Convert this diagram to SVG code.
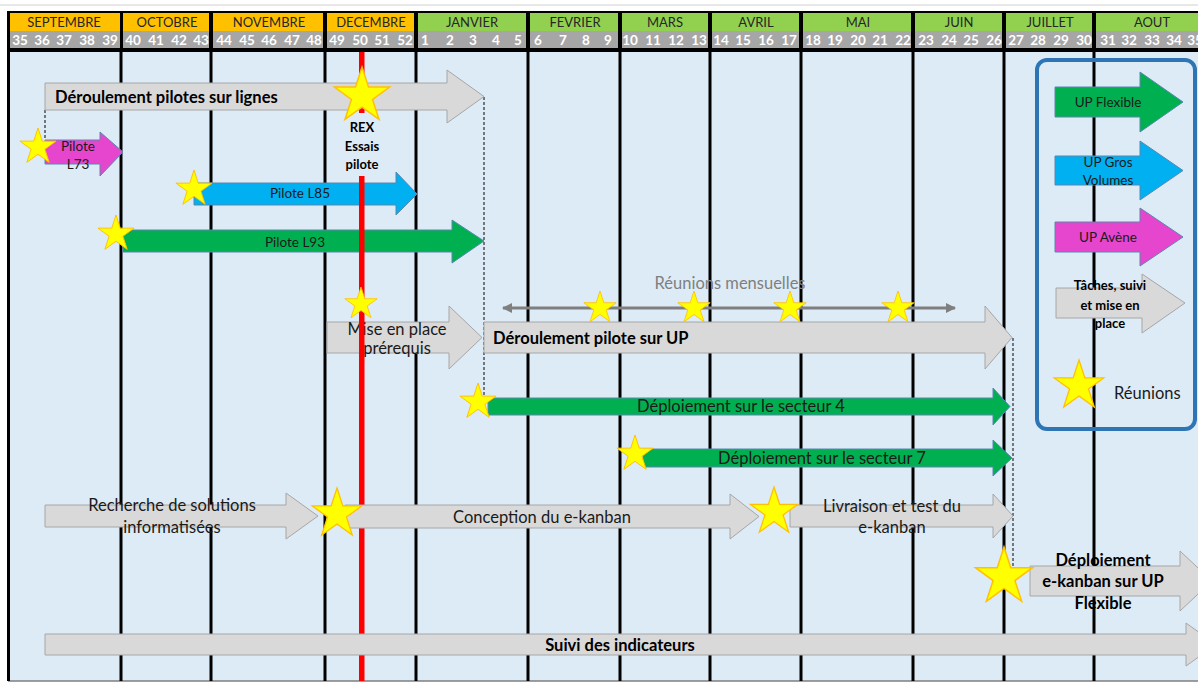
<svg xmlns="http://www.w3.org/2000/svg" xmlns:xlink="http://www.w3.org/1999/xlink" width="1198" height="683" viewBox="0 0 1198 683">
<defs>
<style>
.mon{font-family:Lato,"Liberation Sans",sans-serif;font-size:13px;fill:#262626;text-anchor:middle}
.wk{font-family:Lato,"Liberation Sans",sans-serif;font-size:13.5px;font-weight:bold;fill:#ffffff;text-anchor:middle}
.grid{stroke:#000;stroke-width:3}
.gray{fill:#D9D9D9;stroke:#A6A6A6;stroke-width:1}
.green{fill:#00B050;stroke:#5B86B0;stroke-width:1}
.blue{fill:#00B0F0;stroke:#5B86B0;stroke-width:1}
.mag{fill:#E646CD;stroke:#5B86B0;stroke-width:1}
.t{font-family:Lato,"Liberation Sans",sans-serif;font-size:16.5px;fill:#1a1a1a;text-anchor:middle}
.tb{font-family:Lato,"Liberation Sans",sans-serif;font-size:16.5px;font-weight:bold;fill:#000;text-anchor:middle}
.ts{font-family:Lato,"Liberation Sans",sans-serif;font-size:13.5px;fill:#1a1a1a;text-anchor:middle}
.tsb{font-family:Lato,"Liberation Sans",sans-serif;font-size:13px;font-weight:bold;fill:#000;text-anchor:middle}
.dash{stroke:#2b2b2b;stroke-width:1.2;stroke-dasharray:3 2;fill:none}
.star{fill:#FFFF00;stroke:#FFC000;stroke-width:1}
</style>
<path id="star" d="M0,-20 L4.49,-6.18 L19.02,-6.18 L7.27,2.36 L11.76,16.18 L0,7.64 L-11.76,16.18 L-7.27,2.36 L-19.02,-6.18 L-4.49,-6.18 Z"/>
<marker id="ah" viewBox="0 0 10 10" refX="9" refY="5" markerWidth="11" markerHeight="10" markerUnits="userSpaceOnUse" orient="auto-start-reverse">
<path d="M0,0 L10,5 L0,10 Z" fill="#7F7F7F"/>
</marker>
</defs>

<!-- background -->
<rect x="0" y="0" width="1198" height="683" fill="#ffffff"/>
<line x1="0" y1="5" x2="1198" y2="5" stroke="#D0D0D0" stroke-width="1"/>
<rect x="8" y="52" width="1190" height="629" fill="#DDEBF7"/>
<line x1="8" y1="681" x2="1198" y2="681" stroke="#7F7F7F" stroke-width="1.5"/>

<!-- header -->
<g id="header">
<rect x="7" y="11" width="1191" height="41" fill="#000"/>
<g fill="#FFC000">
<rect x="10" y="13" width="110" height="18"/>
<rect x="123" y="13" width="86" height="18"/>
<rect x="213" y="13" width="110" height="18"/>
<rect x="327" y="13" width="87" height="18"/>
</g>
<g fill="#92D050">
<rect x="418" y="13" width="108" height="18"/>
<rect x="530" y="13" width="88" height="18"/>
<rect x="622" y="13" width="86" height="18"/>
<rect x="712" y="13" width="87" height="18"/>
<rect x="803" y="13" width="108" height="18"/>
<rect x="915" y="13" width="87" height="18"/>
<rect x="1006" y="13" width="86" height="18"/>
<rect x="1096" y="13" width="102" height="18"/>
</g>
<g fill="#A6A6A6">
<rect x="10" y="31" width="110" height="17"/>
<rect x="123" y="31" width="86" height="17"/>
<rect x="213" y="31" width="110" height="17"/>
<rect x="327" y="31" width="87" height="17"/>
<rect x="418" y="31" width="108" height="17"/>
<rect x="530" y="31" width="88" height="17"/>
<rect x="622" y="31" width="86" height="17"/>
<rect x="712" y="31" width="87" height="17"/>
<rect x="803" y="31" width="108" height="17"/>
<rect x="915" y="31" width="87" height="17"/>
<rect x="1006" y="31" width="86" height="17"/>
<rect x="1096" y="31" width="102" height="17"/>
</g>
<text class="mon" x="64" y="26.5">SEPTEMBRE</text>
<text class="mon" x="167" y="26.5">OCTOBRE</text>
<text class="mon" x="269" y="26.5">NOVEMBRE</text>
<text class="mon" x="371" y="26.5">DECEMBRE</text>
<text class="mon" x="472" y="26.5">JANVIER</text>
<text class="mon" x="575" y="26.5">FEVRIER</text>
<text class="mon" x="665" y="26.5">MARS</text>
<text class="mon" x="756" y="26.5">AVRIL</text>
<text class="mon" x="858" y="26.5">MAI</text>
<text class="mon" x="959" y="26.5">JUIN</text>
<text class="mon" x="1050" y="26.5">JUILLET</text>
<text class="mon" x="1152" y="26.5">AOUT</text>
<g class="wk">
<text x="20" y="45">35</text><text x="42" y="45">36</text><text x="64" y="45">37</text><text x="87" y="45">38</text><text x="110" y="45">39</text>
<text x="133" y="45">40</text><text x="156" y="45">41</text><text x="179" y="45">42</text><text x="201" y="45">43</text>
<text x="224" y="45">44</text><text x="247" y="45">45</text><text x="269" y="45">46</text><text x="292" y="45">47</text><text x="314" y="45">48</text>
<text x="337" y="45">49</text><text x="360" y="45">50</text><text x="382" y="45">51</text><text x="405" y="45">52</text>
<text x="425" y="45">1</text><text x="450" y="45">2</text><text x="473" y="45">3</text><text x="496" y="45">4</text><text x="518" y="45">5</text>
<text x="538" y="45">6</text><text x="563" y="45">7</text><text x="586" y="45">8</text><text x="608" y="45">9</text>
<text x="630" y="45">10</text><text x="653" y="45">11</text><text x="676" y="45">12</text><text x="699" y="45">13</text>
<text x="721" y="45">14</text><text x="743" y="45">15</text><text x="766" y="45">16</text><text x="789" y="45">17</text>
<text x="813" y="45">18</text><text x="835" y="45">19</text><text x="858" y="45">20</text><text x="880" y="45">21</text><text x="903" y="45">22</text>
<text x="926" y="45">23</text><text x="949" y="45">24</text><text x="971" y="45">25</text><text x="994" y="45">26</text>
<text x="1016" y="45">27</text><text x="1038" y="45">28</text><text x="1061" y="45">29</text><text x="1084" y="45">30</text>
<text x="1108" y="45">31</text><text x="1129" y="45">32</text><text x="1152" y="45">33</text><text x="1174" y="45">34</text><text x="1195" y="45">35</text>
</g>
</g>

<!-- grid lines -->
<g id="grid" class="grid">
<line x1="8.5" y1="11" x2="8.5" y2="681"/>
<line x1="121" y1="52" x2="121" y2="681"/>
<line x1="211" y1="52" x2="211" y2="681"/>
<line x1="325" y1="52" x2="325" y2="681"/>
<line x1="416" y1="52" x2="416" y2="681"/>
<line x1="528" y1="52" x2="528" y2="681"/>
<line x1="620" y1="52" x2="620" y2="681"/>
<line x1="710" y1="52" x2="710" y2="681"/>
<line x1="801" y1="52" x2="801" y2="681"/>
<line x1="913" y1="52" x2="913" y2="681"/>
<line x1="1004" y1="52" x2="1004" y2="681"/>
<line x1="1094" y1="52" x2="1094" y2="681"/>
</g>

<!-- connectors -->
<g id="connectors">
<line class="dash" x1="45" y1="110" x2="45" y2="140"/>
<line class="dash" x1="484" y1="97" x2="484" y2="398"/>
<line class="dash" x1="1013" y1="338" x2="1013" y2="567"/>
<line x1="503" y1="308" x2="955" y2="308" stroke="#7F7F7F" stroke-width="3" marker-start="url(#ah)" marker-end="url(#ah)"/>
</g>

<!-- nodes -->
<g id="n-deroulement-lignes">
<path class="gray" d="M45,83 H447 V70 L484,96.5 L447,123 V110 H45 Z"/>
<text class="tb" x="55" y="103" style="text-anchor:start">Déroulement pilotes sur lignes</text>
</g>
<g id="n-pilote-l73">
<path class="mag" d="M45,140 H100 V132 L123,152 L100,176 V164 H45 Z"/>
<text class="ts" x="78" y="151">Pilote</text>
<text class="ts" x="78" y="169">L73</text>
</g>
<g id="n-pilote-l85">
<path class="blue" d="M194,183 H396 V172 L417,194 L396,215 V205 H194 Z"/>
<text class="ts" x="300" y="198">Pilote L85</text>
</g>
<g id="n-pilote-l93">
<path class="green" d="M123,230 H452 V220 L484,241 L452,263 V252 H123 Z"/>
<text class="ts" x="295" y="247">Pilote L93</text>
</g>
<g id="n-mise-en-place">
<path class="gray" d="M327,322 H449 V306 L482,337.5 L449,369 V353 H327 Z"/>
<text class="t" x="397" y="335">Mise en place</text>
<text class="t" x="397" y="354">prérequis</text>
</g>

<!-- red milestone line -->
<g id="n-rex-line">
<rect x="359" y="52" width="5.5" height="629" fill="#FF0000"/>
<rect x="338" y="113" width="48" height="63" fill="#DDEBF7"/>
</g>
<g id="n-rex">
<text class="tsb" x="362" y="132">REX</text>
<text class="tsb" x="362" y="151">Essais</text>
<text class="tsb" x="362" y="169">pilote</text>
</g>

<g id="n-deroulement-up">
<path class="gray" d="M484,322 H985 V306 L1012,337.5 L985,369 V353 H484 Z"/>
<text class="tb" x="493" y="344" style="text-anchor:start">Déroulement pilote sur UP</text>
</g>
<g id="n-reunions-mensuelles">
<text class="t" x="730" y="289" style="fill:#7F7F7F">Réunions mensuelles</text>
</g>
<g id="n-secteur4">
<path class="green" d="M488,398 H993 V388 L1010,406.5 L993,425 V415 H488 Z"/>
<text class="t" x="741" y="412">Déploiement sur le secteur 4</text>
</g>
<g id="n-secteur7">
<path class="green" d="M643,449 H993 V440 L1012,458 L993,476 V467 H643 Z"/>
<text class="t" x="822" y="464">Déploiement sur le secteur 7</text>
</g>
<g id="n-recherche">
<path class="gray" d="M45,505 H286 V493 L318,516 L286,539 V527 H45 Z"/>
<text class="t" x="172" y="511">Recherche de solutions</text>
<text class="t" x="172" y="533">informatisées</text>
</g>
<g id="n-conception">
<path class="gray" d="M345,505 H730 V494 L759,516.5 L730,539 V528 H345 Z"/>
<text class="t" x="542" y="523">Conception du e-kanban</text>
</g>
<g id="n-livraison">
<path class="gray" d="M790,505 H993 V494 L1013,516 L993,538 V527 H790 Z"/>
<text class="t" x="892" y="512">Livraison et test du</text>
<text class="t" x="892" y="533">e-kanban</text>
</g>
<g id="n-deploiement-ekanban">
<path class="gray" d="M1030,566 H1180 V551 L1212,581 L1180,611 V596 H1030 Z"/>
<text class="tb" x="1103" y="566">Déploiement</text>
<text class="tb" x="1103" y="587">e-kanban sur UP</text>
<text class="tb" x="1103" y="609">Flexible</text>
</g>
<g id="n-suivi">
<path class="gray" d="M45,634 H1186 V623 L1216,644.5 L1186,666 V655 H45 Z"/>
<text class="tb" x="620" y="651">Suivi des indicateurs</text>
</g>

<!-- stars (meetings) -->
<g id="n-stars" class="star">
<use xlink:href="#star" transform="translate(362,96) scale(1.45)"/>
<use xlink:href="#star" transform="translate(38,147) scale(0.95)"/>
<use xlink:href="#star" transform="translate(194,189) scale(0.95)"/>
<use xlink:href="#star" transform="translate(116,234) scale(0.95)"/>
<use xlink:href="#star" transform="translate(361,304) scale(0.85)"/>
<use xlink:href="#star" transform="translate(600,308) scale(0.85)"/>
<use xlink:href="#star" transform="translate(694,308) scale(0.85)"/>
<use xlink:href="#star" transform="translate(790,308) scale(0.85)"/>
<use xlink:href="#star" transform="translate(898,308) scale(0.85)"/>
<use xlink:href="#star" transform="translate(478,402) scale(0.95)"/>
<use xlink:href="#star" transform="translate(635,454) scale(0.95)"/>
<use xlink:href="#star" transform="translate(337,514) scale(1.3)"/>
<use xlink:href="#star" transform="translate(774,512) scale(1.25)"/>
<use xlink:href="#star" transform="translate(1004,577) scale(1.5)"/>
</g>

<!-- legend -->
<g id="legend">
<rect x="1037" y="60" width="158" height="369" rx="10" ry="10" fill="none" stroke="#2E75B6" stroke-width="4"/>
<g id="legend-flexible">
<path class="green" d="M1055,87 H1140 V72 L1183,102 L1140,132 V117 H1055 Z"/>
<text class="ts" x="1108" y="107">UP Flexible</text>
</g>
<g id="legend-gros-volumes">
<path class="blue" d="M1055,156 H1140 V141 L1183,170.5 L1140,200 V185 H1055 Z"/>
<text class="ts" x="1108" y="167">UP Gros</text>
<text class="ts" x="1108" y="185">Volumes</text>
</g>
<g id="legend-avene">
<path class="mag" d="M1055,222 H1140 V208 L1183,237 L1140,266 V252 H1055 Z"/>
<text class="ts" x="1108" y="242">UP Avène</text>
</g>
<g id="legend-taches">
<path class="gray" d="M1056,288 H1142 V274 L1185,303 L1142,333 V318 H1056 Z"/>
<text class="tsb" x="1110" y="290">Tâches, suivi</text>
<text class="tsb" x="1110" y="310">et mise en</text>
<text class="tsb" x="1110" y="328">place</text>
</g>
<g id="legend-reunions">
<use xlink:href="#star" class="star" transform="translate(1079,386) scale(1.3)"/>
<text class="t" x="1114" y="399" style="text-anchor:start">Réunions</text>
</g>
</g>
</svg>
